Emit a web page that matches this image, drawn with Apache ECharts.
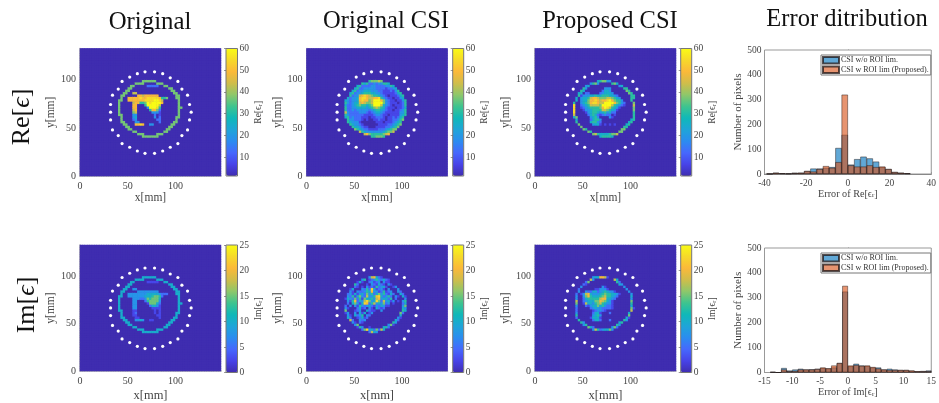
<!DOCTYPE html>
<html><head><meta charset="utf-8">
<style>html,body{margin:0;padding:0;background:#fff}#c{width:939px;height:403px;filter:blur(0.4px)}</style>
<script src="https://cdn.jsdelivr.net/npm/echarts@6/dist/echarts.min.js"></script>
</head><body><div id="c"></div>
<script>
// Raster rows: row 0 is the top of the disk window, one hex digit per 2.5 mm cell.
const RE_LEVELS = [1,7,13,19,25,31,37,43,49,55,60];
const IM_LEVELS = [0,2.5,5,7.5,10,12.5,15,17.5,20,22.5,25];
const RE_TICKS = [10,20,30,40,50,60];
const IM_TICKS = [0,5,10,15,20,25];
const BLANK = "00000 00000 00000 00000 00000 00000 000";
const RE_ORIGINAL = [BLANK,BLANK,
"00000 00000 00000 66666 60000 00000 000",
"00000 00000 00666 60000 06660 00000 000",
"00000 00000 66000 00222 22006 60000 000",
"00000 00006 60000 00000 00000 06600 000",
"00000 00066 00000 00000 00000 00660 000",
"00000 00660 07700 00000 00000 00066 000",
"00000 06600 00088 78888 88000 00006 600",
"00000 06008 88889 88999 99855 60006 600",
"00000 66008 88888 89999 aa970 00000 600",
"00000 60000 07885 56a9a aaa80 00000 600",
"00000 60000 08800 05aaa aa700 00000 600",
"00000 60000 08800 003aa a9500 00000 660",
"00000 60000 07800 00058 86200 00000 600",
"00000 60000 06700 00003 33100 00000 600",
"00000 66000 03300 00000 20100 00000 600",
"00000 06000 03400 00000 30200 00006 600",
"00000 06000 02300 00000 02200 00006 000",
"00000 06600 00330 00000 00200 00066 000",
"00000 00660 00889 80033 00000 00660 000",
"00000 00066 00000 00000 00000 06600 000",
"00000 00006 60000 00000 00000 66000 000",
"00000 00000 06600 00000 00006 60000 000",
"00000 00000 00066 60000 06660 00000 000",
"00000 00000 00000 66666 66000 00000 000"];
const RE_ORIGINAL_CSI = [BLANK,BLANK,
"00000 00000 00000 56667 60000 00000 000",
"00000 00000 00545 22323 35540 00000 000",
"00000 00000 45222 23322 22335 40000 000",
"00000 00004 52233 33322 22122 34000 000",
"00000 00045 23344 43332 21112 13500 000",
"00000 00452 33455 54433 21111 12450 000",
"00000 00523 37898 76554 32101 11245 000",
"00000 04233 48998 77889 53211 01134 000",
"00000 43233 48988 67aaa 86321 10113 500",
"00000 53234 47876 67aaa a6321 11012 500",
"00000 42234 56554 56aaa 74321 01112 500",
"00000 52233 44443 45676 54211 10112 400",
"00000 52232 33333 23455 43211 01123 500",
"00000 73222 23332 12344 32111 11133 500",
"00000 53222 22211 11233 21101 11134 500",
"00000 45232 22111 01122 21011 21245 000",
"00000 05332 22101 00112 11011 22356 000",
"00000 05433 31000 00011 10111 23450 000",
"00000 00543 32100 00001 11122 34560 000",
"00000 00054 43211 00011 11223 45600 000",
"00000 00006 54322 11112 22345 66000 000",
"00000 00000 07543 33333 34566 70000 000",
"00000 00000 00078 65555 56780 00000 000",
"00000 00000 00000 05566 65000 00000 000"];
const RE_PROPOSED_CSI = [BLANK,BLANK,
"00000 00000 00000 45663 30000 00000 000",
"00000 00000 00356 30000 05640 00000 000",
"00000 00000 34000 00000 00003 40000 000",
"00000 00005 30000 00033 30000 05500 000",
"00000 00054 00000 00244 30000 00650 000",
"00000 00440 22000 02344 43000 00065 000",
"00000 00513 33445 44555 44320 00005 500",
"00000 04034 45788 76667 76543 00005 500",
"00000 04034 46889 87889 a8655 30005 000",
"00000 50034 56899 877aa aa865 32000 600",
"00000 90023 45777 76aaa a7543 21000 700",
"00000 90012 34555 568a9 75431 00000 600",
"00000 90001 33455 55776 54310 00000 600",
"00000 90000 13455 43453 42200 00000 500",
"00000 70000 02454 21232 20100 00000 500",
"00000 46000 00345 30000 31000 00000 500",
"00000 04000 00245 53000 00000 00004 500",
"00000 05000 00455 32000 00000 00045 000",
"00000 00600 00034 41010 10100 00450 000",
"00000 00060 00000 00000 00000 05500 000",
"00000 00006 50000 00000 00000 66000 000",
"00000 00000 06500 00000 00006 60000 000",
"00000 00000 00067 54444 56670 00000 000",
"00000 00000 00000 04555 54000 00000 000"];
const IM_ORIGINAL = [BLANK,BLANK,
"00000 00000 00000 44444 40000 00000 000",
"00000 00000 00444 40000 04440 00000 000",
"00000 00000 44000 00111 11004 40000 000",
"00000 00004 40000 00000 00000 04400 000",
"00000 00044 00000 00000 00000 00440 000",
"00000 00440 03300 00000 00000 00044 000",
"00000 04400 00033 33333 33000 00004 400",
"00000 04003 33333 33444 44322 20004 400",
"00000 44003 33333 34445 66520 00000 400",
"00000 40000 03332 23656 66400 00000 400",
"00000 40000 03300 02566 66300 00000 400",
"00000 40000 03300 00166 64200 00000 440",
"00000 40000 03300 00024 43100 00000 400",
"00000 40000 03300 00001 11100 00000 400",
"00000 44000 01100 00000 10100 00000 400",
"00000 04000 01200 00000 10100 00004 400",
"00000 04000 01100 00000 01100 00004 000",
"00000 04400 00110 00000 00100 00044 000",
"00000 00440 00334 30011 00000 00440 000",
"00000 00044 00000 00000 00000 04400 000",
"00000 00004 40000 00000 00000 44000 000",
"00000 00000 04400 00000 00004 40000 000",
"00000 00000 00044 40000 04440 00000 000",
"00000 00000 00000 44444 44000 00000 000"];
const IM_ORIGINAL_CSI = [BLANK,BLANK,
"00000 00000 00000 37842 10000 00000 000",
"00000 00000 00350 12353 24210 00000 000",
"00000 00000 14100 23123 03110 00000 000",
"00000 00005 20001 03214 21031 00000 000",
"00000 00002 10103 12152 34100 13000 000",
"00000 00140 00325 29412 31030 00300 000",
"00000 00310 32235 48331 25123 00320 000",
"00000 02314 13426 35246 35214 20042 000",
"00000 03251 46327 33589 42352 03104 100",
"00000 14326 25164 45378 34425 02000 300",
"00000 03158 24379 63496 27341 30103 500",
"00000 02046 31498 25734 36230 10002 400",
"00000 20303 15323 42132 43110 00003 600",
"00000 31000 24120 31042 12000 00004 300",
"00000 60001 23004 21100 30000 00005 400",
"00000 13003 04140 13000 00000 00062 000",
"00000 03104 23503 20000 00000 00040 000",
"00000 04200 12412 00000 00000 00310 000",
"00000 00720 03230 00000 00000 04200 000",
"00000 00031 02100 00000 00000 53000 000",
"00000 00003 60000 00000 00036 10000 000",
"00000 00000 15300 10000 04520 00000 000",
"00000 00000 00269 34262 74000 00000 000",
"00000 00000 00000 27430 00000 00000 000"];
const IM_PROPOSED_CSI = [BLANK,BLANK,
"00000 00000 00034 48871 00000 00000 000",
"00000 00000 00730 00000 00740 00000 000",
"00000 00000 26000 00000 00052 00000 000",
"00000 00002 10000 00000 00004 30000 000",
"00000 00030 00000 00310 00000 03000 000",
"00000 00200 00001 13331 00000 00300 000",
"00000 00300 32244 23454 33100 00030 000",
"00000 02013 78433 34565 54431 00003 000",
"00000 03003 68544 45675 54320 00004 000",
"00000 03002 45555 57884 43200 00003 000",
"00000 07002 34446 68764 31000 00006 000",
"00000 06001 74435 67543 31000 00005 000",
"00000 03000 21344 64532 21000 00004 000",
"00000 02000 00234 33222 21000 00006 100",
"00000 02000 00012 33210 00000 00007 000",
"00000 03000 00024 41000 20000 00040 000",
"00000 05000 00034 53000 00000 00060 000",
"00000 02000 00144 41000 00000 00410 000",
"00000 00500 00024 42000 20000 05300 000",
"00000 00053 00000 00000 00004 50000 000",
"00000 00003 50000 00000 00053 00000 000",
"00000 00000 06420 00000 03620 00000 000",
"00000 00000 00037 52344 63000 00000 000"];
// Sensor ring [x mm, y mm]
const SENSORS = [[68,108.3],[78,108.3],[60,106.3],[86.5,106.3],[52,102.8],[94.4,102],[44,98.3],[102.4,98.3],[40,90.3],[106.6,90.3],[34,84],[112.5,84],[32,74.3],[114.6,74.3],[32,66.3],[116.3,66.3],[32,58.3],[114.6,58.3],[34,47.9],[112.5,47.9],[40,42],[106.6,42],[44,33.7],[102.4,33.7],[52,29.9],[94.4,29.9],[60,26],[86.5,26],[68,23.6],[78,23.6]];
// Histograms
const RE_BINS = [-37.5,-34.5,-31.5,-28.5,-25.5,-22.5,-19.5,-16.5,-13.5,-10.5,-7.5,-4.5,-1.5,1.5,4.5,7.5,10.5,13.5,16.5,19.5,22.5,25.5,28.5];
const RE_WO = [1,5,3,2,5,5,12,22,22,25,28,105,158,38,60,70,63,50,28,20,8,5,3];
const RE_W = [1,5,3,2,4,5,12,10,20,32,25,48,320,35,30,30,35,28,30,20,8,5,3];
const IM_BINS = [-13.5,-12.5,-11.5,-10.5,-9.5,-8.5,-7.5,-6.5,-5.5,-4.5,-3.5,-2.5,-1.5,-0.5,0.5,1.5,2.5,3.5,4.5,5.5,6.5,7.5,8.5,9.5,10.5,11.5,12.5,13.5,14.5];
const IM_WO = [2,0,18,8,12,15,12,13,15,18,16,20,38,325,25,35,28,26,20,20,12,15,12,10,10,7,5,6,8];
const IM_W = [2,0,12,5,6,12,12,12,14,20,17,28,38,348,28,30,27,28,22,16,12,10,10,10,10,8,5,5,5];
const PARULA = ['#3f2db0','#4743e8','#4668fd','#2b8cf0','#1fa5d8','#0fb8b8','#3ec48f','#8ec76a','#d0bd4a','#fbb93a','#f6d92a','#f9fb15'];
const SERIF = '"Liberation Serif","Times New Roman",serif';
const TXT = '#444';

const grid=[],xAxis=[],yAxis=[],series=[],visualMap=[],legend=[],graphic=[];
function sub(a,b,c){return '{a|'+a+'}{b|'+b+'}{a|'+c+'}';}
function panel(rows,levels,ticks,vmin,vmax,left,top,cbLeft,cbW,cbLabel,xGap,xFont){
  const W=141,H=127.5,g=grid.length;
  grid.push({left,top,width:W,height:H,show:true,backgroundColor:PARULA[0],borderWidth:0});
  const cols=[...Array(59).keys()],rws=[...Array(53).keys()];
  const xc=xAxis.length;
  xAxis.push({gridIndex:g,type:'category',data:cols,show:false});
  xAxis.push({gridIndex:g,type:'value',min:0,max:147.5,interval:50,position:'bottom',
    axisLine:{show:true,onZero:false,lineStyle:{color:'#aaa',width:1.5}},
    axisTick:{show:false},splitLine:{show:false},
    axisLabel:{color:TXT,fontFamily:SERIF,fontSize:10,margin:5,showMaxLabel:false},
    name:'x[mm]',nameLocation:'middle',nameGap:xGap,nameTextStyle:{color:TXT,fontFamily:SERIF,fontSize:xFont}});
  yAxis.push({gridIndex:g,type:'category',data:rws,show:false});
  yAxis.push({gridIndex:g,type:'value',min:0,max:132.5,interval:50,position:'left',
    axisLine:{show:true,onZero:false,lineStyle:{color:'#aaa',width:1.5}},
    axisTick:{show:false},splitLine:{show:false},
    axisLabel:{color:TXT,fontFamily:SERIF,fontSize:10,margin:4,showMaxLabel:false},
    name:'y[mm]',nameLocation:'middle',nameGap:16,nameTextStyle:{color:TXT,fontFamily:SERIF,fontSize:11.5}});
  const data=[];
  for(let c=0;c<59;c++)for(let r=0;r<53;r++){
    const j=41-r,i=c-11;
    const s=rows[j]?rows[j].replace(/ /g,''):'';
    const ch=(j>=0&&i>=0&&i<s.length)?s[i]:'0';
    data.push([c,r,levels[parseInt(ch,16)]]);
  }
  const si=series.length;
  series.push({type:'heatmap',xAxisIndex:xc,yAxisIndex:yAxis.length-2,data,progressive:0,silent:true,itemStyle:{borderWidth:0}});
  series.push({type:'scatter',xAxisIndex:xc+1,yAxisIndex:yAxis.length-1,data:SENSORS,symbolSize:3.2,silent:true,itemStyle:{color:'#fff',opacity:1},z:5});
  visualMap.push({type:'continuous',min:vmin,max:vmax,seriesIndex:si,left:cbLeft,top,itemWidth:cbW,itemHeight:H,padding:0,
    calculable:false,text:['',''],hoverLink:false,inRange:{color:PARULA},showLabel:false,z:3});
  const g2=grid.length;
  grid.push({left:cbLeft,top,width:cbW,height:H,show:true,backgroundColor:'transparent',borderColor:'#777',borderWidth:1,z:6});
  xAxis.push({gridIndex:g2,type:'value',show:false,min:0,max:1});
  yAxis.push({gridIndex:g2,type:'value',min:vmin,max:vmax,position:'right',z:6,
    axisLine:{show:false},splitLine:{show:false},
    axisTick:{show:true,inside:true,length:2,customValues:ticks,lineStyle:{color:'#555',width:.6}},
    axisLabel:{color:TXT,fontFamily:SERIF,fontSize:9.5,margin:2,customValues:ticks},
    name:cbLabel,nameLocation:'middle',nameGap:16,nameRotate:90,
    nameTextStyle:{rich:{a:{color:TXT,fontFamily:SERIF,fontSize:9.5},b:{color:TXT,fontFamily:SERIF,fontSize:6.5,verticalAlign:'bottom'}}}});
}
function hist(bins,wo,w,xmin,xmax,xint,barW,top,height,xName){
  const g=grid.length,left=764.5,width=170.5;
  grid.push({left,top,width,height,show:true,backgroundColor:'#fff',borderColor:'#999',borderWidth:1,z:1});
  const xi=xAxis.length,yi=yAxis.length;
  xAxis.push({gridIndex:g,type:'value',min:xmin,max:xmax,interval:xint,
    axisLine:{show:true,onZero:false,lineStyle:{color:'#777'}},axisTick:{show:true,inside:true,length:2,lineStyle:{color:'#777'}},
    splitLine:{show:true,lineStyle:{color:'#e6e6e6',width:.8}},
    axisLabel:{color:TXT,fontFamily:SERIF,fontSize:9.5,margin:4,hideOverlap:false},
    name:xName,nameLocation:'middle',nameGap:14,
    nameTextStyle:{rich:{a:{color:TXT,fontFamily:SERIF,fontSize:10.2},b:{color:TXT,fontFamily:SERIF,fontSize:7,verticalAlign:'bottom'}}}});
  yAxis.push({gridIndex:g,type:'value',min:0,max:500,interval:100,
    axisLine:{show:true,lineStyle:{color:'#777'}},axisTick:{show:true,inside:true,length:2,lineStyle:{color:'#777'}},
    splitLine:{show:true,lineStyle:{color:'#e6e6e6',width:.8}},
    axisLabel:{color:TXT,fontFamily:SERIF,fontSize:9.5,margin:3},
    name:'Number of pixels',nameLocation:'middle',nameGap:15,nameTextStyle:{color:TXT,fontFamily:SERIF,fontSize:11}});
  const names=['CSI w/o ROI lim.','CSI w ROI lim (Proposed).'];
  const colors=['rgba(0,114,189,0.62)','rgba(217,83,25,0.62)'];
  [wo,w].forEach((vals,k)=>series.push({type:'bar',name:names[k],xAxisIndex:xi,yAxisIndex:yi,barWidth:barW,barGap:'-100%',silent:true,z:3+k,
    data:bins.map((b,n)=>[b,vals[n]]),
    itemStyle:{color:colors[k],borderColor:'rgba(30,20,20,0.75)',borderWidth:.6}}));
  legend.push({orient:'vertical',left:821,top:top+5,padding:[1,2,1,1],itemGap:1,itemWidth:16,itemHeight:6.5,icon:'rect',data:names,selectedMode:false,
    backgroundColor:'#fff',borderColor:'#777',borderWidth:1,z:8,
    textStyle:{fontFamily:SERIF,fontSize:8,color:'#333',padding:[0,0,0,-3]}});
}
panel(RE_ORIGINAL,RE_LEVELS,RE_TICKS,1.3,60,80,48.5,226,11.5,sub('Re[ϵ','r',']'),16,11.5);
panel(RE_ORIGINAL_CSI,RE_LEVELS,RE_TICKS,1.3,60,306.5,48.5,452.7,11,sub('Re[ϵ','r',']'),16,11.5);
panel(RE_PROPOSED_CSI,RE_LEVELS,RE_TICKS,1.3,60,535,48.5,680.7,11,sub('Re[ϵ','r',']'),16,11.5);
panel(IM_ORIGINAL,IM_LEVELS,IM_TICKS,0,25,80,245,226,11.5,sub('Im[ϵ','r',']'),18,12.5);
panel(IM_ORIGINAL_CSI,IM_LEVELS,IM_TICKS,0,25,306.5,245,452.7,11,sub('Im[ϵ','r',']'),18,12.5);
panel(IM_PROPOSED_CSI,IM_LEVELS,IM_TICKS,0,25,535,245,680.7,11,sub('Im[ϵ','r',']'),18,12.5);
hist(RE_BINS,RE_WO,RE_W,-40,40,20,6.4,50,124,sub('Error of Re[ϵ','r',']'));
hist(IM_BINS,IM_WO,IM_W,-15,15,5,5.7,248,124.5,sub('Error of Im[ϵ','r',']'));

[['Original',150,22,24.8],['Original CSI',386,22,24.5],['Proposed CSI',610,22,24.5],['Error ditribution',847,20,24.5]].forEach(t=>{
  graphic.push({type:'text',x:t[1],y:t[2],style:{text:t[0],fontFamily:SERIF,fontSize:t[3],fill:'#111',textAlign:'center',textVerticalAlign:'middle'}});
});
[['Re[','ϵ',']',22,117],['Im[','ϵ',']',27,305]].forEach(t=>{
  graphic.push({type:'text',x:t[3],y:t[4],rotation:Math.PI/2,style:{text:'{a|'+t[0]+'}{e|'+t[1]+'}{a|'+t[2]+'}',fill:'#111',textAlign:'center',textVerticalAlign:'middle',
    rich:{a:{fontFamily:SERIF,fontSize:26,fill:'#111'},e:{fontFamily:SERIF,fontStyle:'italic',fontSize:26,fill:'#111'}}}});
});
const chart=echarts.init(document.getElementById('c'),null,{renderer:'canvas'});
chart.setOption({animation:false,backgroundColor:'#fff',grid,xAxis,yAxis,series,visualMap,legend,graphic});
</script></body></html>
